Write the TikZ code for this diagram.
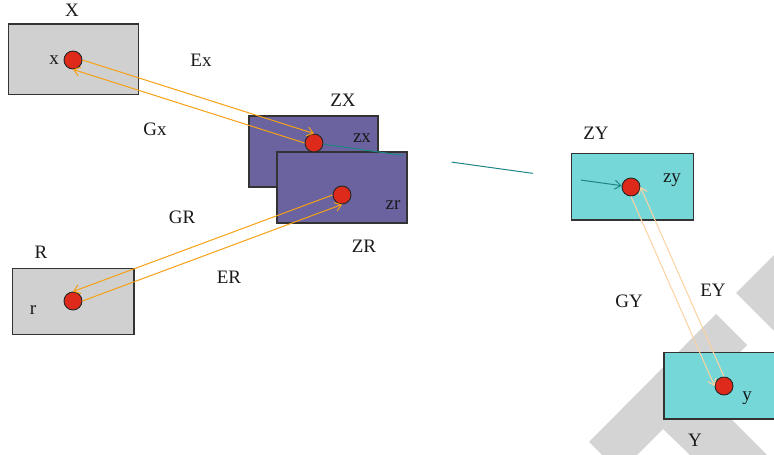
\documentclass[tikz,border=0pt]{standalone}
\usepackage{fontspec}
\setmainfont{Liberation Serif}
\usetikzlibrary{calc,arrows.meta}
\definecolor{boxgray}{HTML}{D0D0D0}
\definecolor{boxpurple}{HTML}{6B63A0}
\definecolor{boxteal}{HTML}{76D7D8}
\definecolor{dotred}{HTML}{DD2A1A}
\definecolor{arrorange}{HTML}{F5A015}
\definecolor{arrpeach}{HTML}{FDD2A0}
\definecolor{lineteal}{HTML}{1E8585}
\definecolor{wmgray}{HTML}{D4D4D4}
\definecolor{edge}{HTML}{333333}
\tikzset{
  box/.style={draw=edge, line width=1.2pt, rectangle, inner sep=0pt},
  dot/.style={draw=black!85, line width=0.9pt, fill=dotred, circle, minimum size=18pt, inner sep=0pt},
  lbl/.style={font=\fontsize{19}{21}\selectfont, text=black!90, inner sep=0pt},
  oarr/.style={draw=arrorange, line width=1pt, -{Straight Barb[length=6pt,width=9pt]}},
  parr/.style={draw=arrpeach, line width=1pt, -{Straight Barb[length=6pt,width=9pt]}},
  tline/.style={draw=lineteal, line width=1pt}
}
\begin{document}
\begin{tikzpicture}[x=1pt,y=-1pt]
\useasboundingbox (0,0) rectangle (774,455);
\clip (0,0) rectangle (774,455);
% watermark
\fill[wmgray] (602,455) -- (589,442) -- (716,314) -- (747,345) -- (663,429) -- (637,455) -- cycle;
\fill[wmgray] (663,429) -- (690,455) -- (767,455) -- (720,408) -- (700,392) -- cycle;
\fill[wmgray] (736,293) -- (774,255) -- (774,331) -- cycle;
% boxes
\node[box, fill=boxgray, minimum width=130pt, minimum height=70.7pt] (bX) at (73.3,59.4) {};
\node[box, fill=boxpurple, minimum width=129pt, minimum height=71pt] (bZX) at (313.5,151.5) {};
\node[box, fill=boxpurple, minimum width=130pt, minimum height=71pt] (bZR) at (342,187.5) {};
\node[box, fill=boxteal, minimum width=121.6pt, minimum height=66.7pt] (bZY) at (632.5,186.7) {};
\node[box, fill=boxteal, minimum width=122pt, minimum height=66.3pt] (bY) at (725,385.9) {};
\node[box, fill=boxgray, minimum width=121.3pt, minimum height=66pt] (bR) at (73.3,301.3) {};
% dots
\node[dot] (dx) at (73,60) {};
\node[dot] (dzx) at (314,143) {};
\node[dot] (dzr) at (342,195) {};
\node[dot] (dzy) at (631,187) {};
\node[dot] (dy) at (724,386) {};
\node[dot] (dr) at (73,301) {};
% teal connector (broken)
\draw[tline] (dzx) -- ($(dzx)!0.282!(dzy)$);
\draw[tline] ($(dzx)!0.434!(dzy)$) -- ($(dzx)!0.690!(dzy)$);
\draw[tline, -{Straight Barb[length=6pt,width=9pt]}] ($(dzx)!0.842!(dzy)$) -- (dzy);
% orange arrows
\draw[oarr] (dx.east) -- (dzx.north);
\draw[oarr] (dzx.west) -- (dx.south);
\draw[oarr] (dr.east) -- (dzr.south);
\draw[oarr] (dzr.west) -- (dr.north);
\draw[parr] (dzy.south) -- (dy.west);
\draw[parr] (dy.north) -- (dzy.east);
% labels
\node[lbl] (tX) at (72,10) {X};
\node[lbl] (tx) at (54,60) {x};
\node[lbl] (tEx) at (201,60) {Ex};
\node[lbl] (tGx) at (155,129) {Gx};
\node[lbl] (tZX) at (343,100) {ZX};
\node[lbl] (tzx) at (362,138) {zx};
\node[lbl] (tzr) at (393,205) {zr};
\node[lbl] (tZR) at (364,246) {ZR};
\node[lbl] (tGR) at (182,217) {GR};
\node[lbl] (tER) at (229,277) {ER};
\node[lbl] (tR) at (41,252) {R};
\node[lbl] (tr) at (33,310) {r};
\node[lbl] (tZY) at (596,133) {ZY};
\node[lbl] (tzy) at (672,180) {zy};
\node[lbl] (tGY) at (629,301) {GY};
\node[lbl] (tEY) at (713,290) {EY};
\node[lbl] (ty) at (747,398) {y};
\node[lbl] (tY) at (695,440) {Y};
\end{tikzpicture}
\end{document}
